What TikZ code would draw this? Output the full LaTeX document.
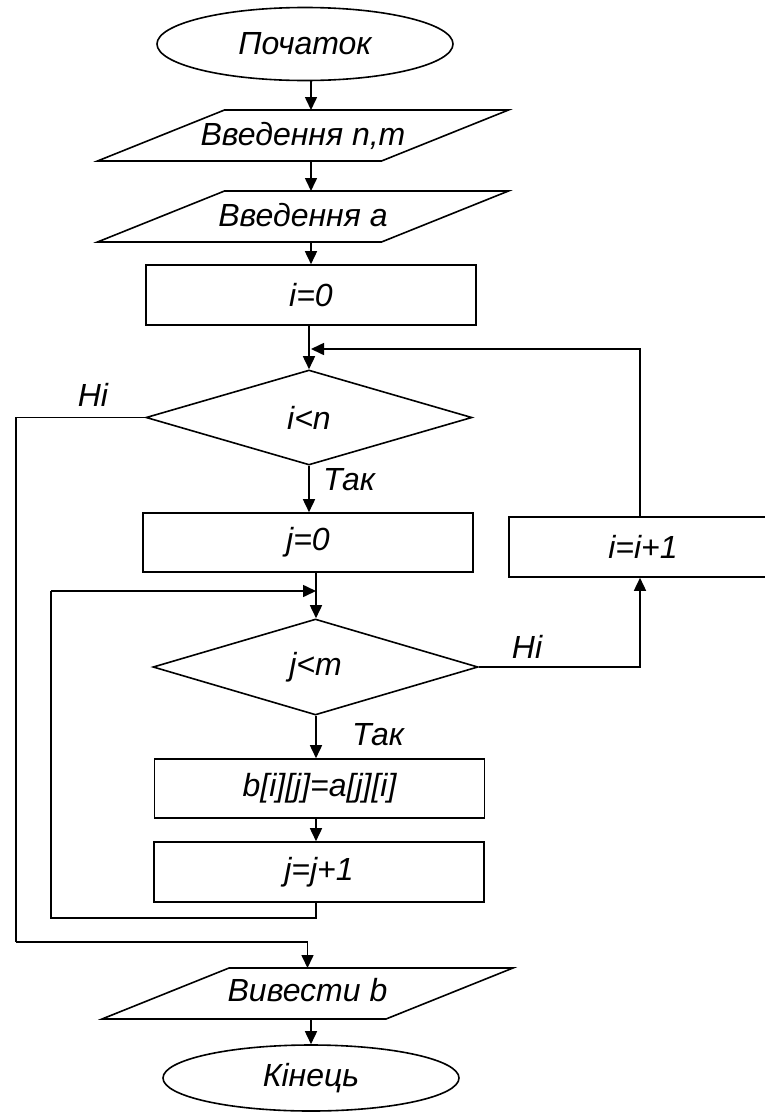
\documentclass[tikz,border=0pt]{standalone}
\usepackage{fontspec}
\setmainfont{Liberation Sans}
\usetikzlibrary{shapes.geometric,arrows.meta}
\newcommand{\ioshape}[1]{%
  \draw[ln] ([xshift=-63.5pt]#1.south west) -- ([xshift=-63.5pt]#1.south east)
    -- ([xshift=63.5pt]#1.north east) -- ([xshift=63.5pt]#1.north west) -- cycle;}
\begin{document}
\begin{tikzpicture}[x=1pt,y=-1pt,
  font=\fontsize{32}{38}\selectfont\itshape,
  every node/.style={inner sep=0pt},
  ln/.style={line width=1.6pt},
  arr/.style={ln,-{Triangle[length=13pt,width=12pt]}},
  term/.style={draw,ln,ellipse,minimum width=296pt,minimum height=73pt},
  io/.style={rectangle,outer sep=0pt,minimum width=284pt,minimum height=51pt},
  proc/.style={draw,ln,rectangle,minimum width=330pt,minimum height=60pt},
  dec/.style={draw,ln,diamond,minimum width=326pt,minimum height=95pt},
  lbl/.style={}
]
\useasboundingbox (0,0) rectangle (764,1114);

% nodes
\node[term] (start) at (305,44) {Початок};
\node[io] (in1) at (303,135.5) {\raisebox{4pt}{Введення n,m}};
\node[io] (in2) at (303,216.5) {\raisebox{4pt}{Введення a}};
\ioshape{in1}
\ioshape{in2}
\node[proc] (i0) at (311,295) {i=0};
\node[dec] (d1) at (309,417.5) {i<n};
\node[proc, minimum height=59pt] (j0) at (308,542.5) {j=0};
\node[proc, minimum width=268pt] (inci) at (643,547) {i=i+1};
\node[dec, minimum width=325pt, minimum height=96pt] (d2) at (315.5,667) {j<m};
\node[proc, minimum height=59pt] (bij) at (319.5,788.5) {b[i][j]=a[j][i]};
\node[proc] (incj) at (319,872) {j=j+1};
\node[io] (out) at (307.5,993.5) {\raisebox{7pt}{Вивести b}};
\ioshape{out}
\node[term, minimum height=66pt] (end) at (311,1078) {Кінець};

% column coordinates
\coordinate (cA) at (311,0);
\coordinate (cB) at (316,0);
\coordinate (cR) at (640,0);
\coordinate (loopI) at (311,349);
\coordinate (nL) at (16,942);
\coordinate (jL) at (51,918);
\coordinate (jT) at (51,591);
\coordinate (jTip) at (316,591);

% connectors
\draw[arr] (cA |- start.south) -- (cA |- in1.north);
\draw[arr] (cA |- in1.south) -- (cA |- in2.north);
\draw[arr] (cA |- in2.south) -- (cA |- i0.north);
\draw[arr] (d1.north |- i0.south) -- (d1.north);
\draw[arr] (cR |- inci.north) |- (loopI);
\draw[ln] (d1.west) -| (nL);
\draw[arr] (nL) -| (out.north);
\draw[arr] (d1.south) -- (d1.south |- j0.north);
\draw[arr] (cB |- j0.south) -- (cB |- d2.north);
\draw[arr] (d2.east) -| (cR |- inci.south);
\draw[arr] (cB |- d2.south) -- (cB |- bij.north);
\draw[arr] (cB |- bij.south) -- (cB |- incj.north);
\draw[ln] (cB |- incj.south) |- (jL) -- (jT);
\draw[arr] (jT) -- (jTip);
\draw[arr] (cA |- out.south) -- (cA |- end.north);

% labels
\node[lbl] (l1) at (93,395) {Ні};
\node[lbl] (l2) at (349,480) {Так};
\node[lbl] (l3) at (527,647) {Ні};
\node[lbl] (l4) at (378,735) {Так};
\end{tikzpicture}
\end{document}
